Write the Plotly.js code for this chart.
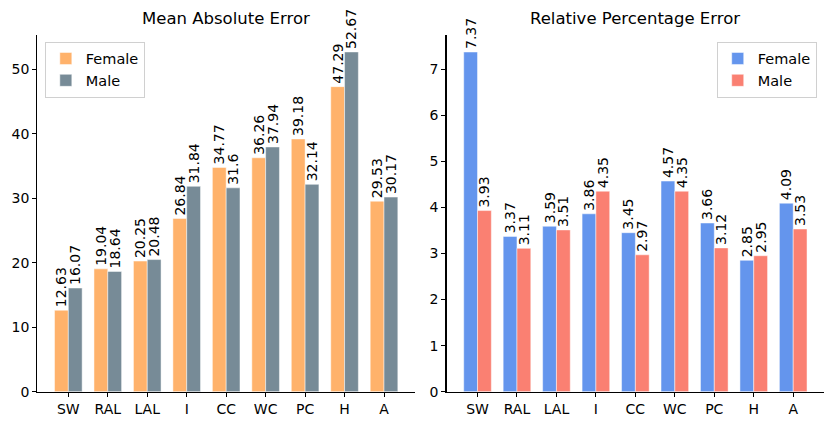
<!DOCTYPE html>
<html>
<head>
<meta charset="utf-8">
<script src="https://cdn.plot.ly/plotly-3.0.1.min.js"></script>
<style>
  body { margin: 0; padding: 0; background: #fff; }
  #chart { width: 830px; height: 424px; }
</style>
</head>
<body>
<div id="chart"></div>
<script>
// joint names
var joints = ['SW', 'RAL', 'LAL', 'I', 'CC', 'WC', 'PC', 'H', 'A']

// Mean Absolute Error
var maeFemale = [12.63, 19.04, 20.25, 26.84, 34.77, 36.26, 39.18, 47.29, 29.53]
var maeMale   = [16.07, 18.64, 20.48, 31.84, 31.6, 37.94, 32.14, 52.67, 30.17]

// Relative Percentage Error
var rpeFemale = [7.37, 3.37, 3.59, 3.86, 3.45, 4.57, 3.66, 2.85, 4.09]
var rpeMale   = [3.93, 3.11, 3.51, 4.35, 2.97, 4.35, 3.12, 2.95, 3.53]

var maeTicks = [0, 10, 20, 30, 40, 50]
var rpeTicks = [0, 1, 2, 3, 4, 5, 6, 7]

var FONT = 'DejaVu Sans, sans-serif'
var W = 0.35

function barTrace(vals, name, color, offset, xa, ya, leg) {
    return {
        type: 'bar',
        x: joints,
        y: vals,
        name: name,
        width: W,
        offset: offset,
        xaxis: xa,
        yaxis: ya,
        legend: leg,
        text: vals.map(function (v) { return String(v) }),
        textposition: 'outside',
        textangle: -90,
        constraintext: 'none',
        cliponaxis: false,
        textfont: {family: FONT, size: 14, color: '#000'},
        marker: {color: color, line: {color: 'rgba(255,255,255,0.6)', width: 0.8}},
        hoverinfo: 'x+y',
    }
}

var data = [
    barTrace(maeFemale, 'Female', '#FFB26B', -W, 'x', 'y', 'legend'),
    barTrace(maeMale, 'Male', '#778B97', 0, 'x', 'y', 'legend'),
    barTrace(rpeFemale, 'Female', '#6495ED', -W, 'x2', 'y2', 'legend2'),
    barTrace(rpeMale, 'Male', '#FA8072', 0, 'x2', 'y2', 'legend2'),
]

function xAxis(dom, anchor) {
    return {
        domain: dom,
        anchor: anchor,
        type: 'category',
        range: [-0.785, 8.785],
        showgrid: false,
        zeroline: false,
        showline: true,
        linecolor: '#000',
        linewidth: 1.2,
        ticks: 'outside',
        ticklen: 4,
        tickwidth: 1,
        tickcolor: '#000',
        tickfont: {family: FONT, size: 14, color: '#000'},
        fixedrange: true,
    }
}

function yAxis(rng, ticks, anchor) {
    return {
        domain: [0.0762, 0.9175],
        anchor: anchor,
        range: rng,
        tickvals: ticks,
        ticktext: ticks.map(String),
        showgrid: false,
        zeroline: false,
        showline: true,
        linecolor: '#000',
        linewidth: 1.2,
        ticks: 'outside',
        ticklen: 4,
        tickwidth: 1,
        tickcolor: '#000',
        tickfont: {family: FONT, size: 14, color: '#000'},
        fixedrange: true,
    }
}

var legendBase = {
    bgcolor: 'rgba(255,255,255,0.85)',
    bordercolor: '#d0d0d0',
    borderwidth: 1,
    font: {family: FONT, size: 14.5, color: '#000'},
    tracegroupgap: 0,
    itemwidth: 30,
}

var layout = {
    width: 830,
    height: 424,
    margin: {l: 0, r: 0, t: 0, b: 0},
    paper_bgcolor: '#fff',
    plot_bgcolor: '#fff',
    barmode: 'overlay',
    xaxis: xAxis([0.045, 0.5], 'y'),
    yaxis: yAxis([0, 55.3], maeTicks, 'x'),
    xaxis2: xAxis([0.538, 0.993], 'y2'),
    yaxis2: yAxis([0, 7.74], rpeTicks, 'x2'),
    legend: Object.assign({}, legendBase, {x: 0.054, y: 0.902, xanchor: 'left', yanchor: 'top'}),
    legend2: Object.assign({}, legendBase, {x: 0.984, y: 0.902, xanchor: 'right', yanchor: 'top'}),
    annotations: [
        {text: 'Mean Absolute Error', xref: 'paper', yref: 'paper', x: 0.2725, y: (424 - 18) / 424,
         xanchor: 'center', yanchor: 'middle', showarrow: false, font: {family: FONT, size: 16.5, color: '#000'}},
        {text: 'Relative Percentage Error', xref: 'paper', yref: 'paper', x: 0.7655, y: (424 - 18) / 424,
         xanchor: 'center', yanchor: 'middle', showarrow: false, font: {family: FONT, size: 16.5, color: '#000'}},
    ],
}

Plotly.newPlot('chart', data, layout, {displayModeBar: false, staticPlot: true})
</script>
</body>
</html>
